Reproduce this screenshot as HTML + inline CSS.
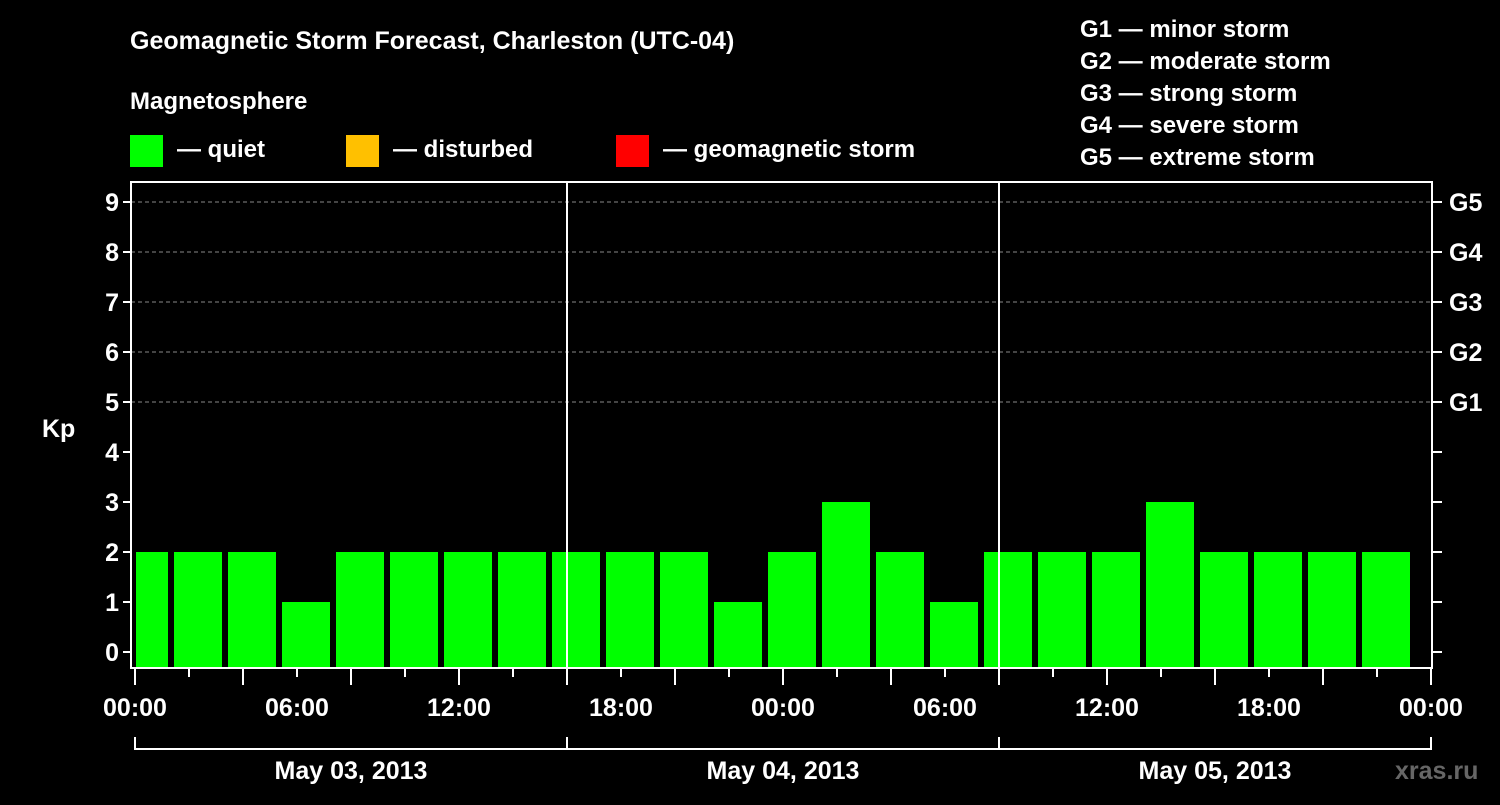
<!DOCTYPE html>
<html><head><meta charset="utf-8"><style>
body{margin:0;background:#000;width:1500px;height:800px;overflow:hidden}
svg{font-family:"Liberation Sans",Arial,sans-serif;font-weight:bold}
</style></head><body>
<svg id="c" width="1500" height="800" xmlns="http://www.w3.org/2000/svg">
<rect width="1500" height="800" fill="#000"/>
<text x="130" y="49" fill="#fff" font-size="25">Geomagnetic Storm Forecast, Charleston (UTC-04)</text>
<text x="130" y="109" fill="#fff" font-size="24">Magnetosphere</text>
<g><rect x="130" y="135" width="33" height="32" fill="#00ff00"/><text x="177" y="157" fill="#fff" font-size="24">— quiet</text></g>
<g><rect x="346" y="135" width="33" height="32" fill="#ffc000"/><text x="393" y="157" fill="#fff" font-size="24">— disturbed</text></g>
<g><rect x="616" y="135" width="33" height="32" fill="#ff0000"/><text x="663" y="157" fill="#fff" font-size="24">— geomagnetic storm</text></g>
<g fill="#fff" font-size="24">
<text x="1080" y="37">G1 — minor storm</text><text x="1080" y="69">G2 — moderate storm</text><text x="1080" y="101">G3 — strong storm</text><text x="1080" y="133">G4 — severe storm</text><text x="1080" y="165">G5 — extreme storm</text>
</g>
<text x="42" y="437" fill="#fff" font-size="25">Kp</text>
<text x="1395" y="779" fill="#666" font-size="25">xras.ru</text>
<g id="plot"></g>
</svg>
<script>
const kpValues=[2,2,2,2,1,2,2,2,2,2,2,2,1,2,3,2,1,2,2,2,3,2,2,2,2];
const yTicks=[0,1,2,3,4,5,6,7,8,9];
const gLabels=["G1","G2","G3","G4","G5"];
const hourLabels=["00:00","06:00","12:00","18:00","00:00","06:00","12:00","18:00","00:00"];
const dayLabels=["May 03, 2013","May 04, 2013","May 05, 2013"];
const NS="http://www.w3.org/2000/svg";
const g=document.getElementById('plot');
const X0=135,HR=18,L=131,R=1432,T=182,B=668;
const x=h=>X0+h*HR; const y=v=>652-v*50;
function mk(t,a,txt){const e=document.createElementNS(NS,t);for(const k in a)e.setAttribute(k,a[k]);if(txt!==undefined)e.textContent=txt;g.appendChild(e);return e;}
// grid
yTicks.forEach(v=>{if(v>=5){const e=mk('line',{x1:L,x2:R,y1:y(v),y2:y(v),stroke:'#888','stroke-dasharray':'4,3','stroke-width':1});

}});
// bars
kpValues.forEach((v,i)=>{let s=x(-4+i*3)+3,e=x(-1+i*3)-3;s=Math.max(s,L+5);e=Math.min(e,R-4);
const r=mk('rect',{x:s,y:y(v),width:e-s,height:B-1-y(v),fill:v>=5?'#ff0000':v>=4?'#ffc000':'#00ff00'});

});
// day separators
[24,48].forEach(h=>{const e=mk('line',{x1:x(h),x2:x(h),y1:T,y2:B,stroke:'#fff','stroke-width':2});

});
// frame
const f=mk('rect',{x:L,y:T,width:R-L,height:B-T,fill:'none',stroke:'#fff','stroke-width':2});


// y ticks
yTicks.forEach(v=>{mk('line',{x1:L-8,x2:L,y1:y(v),y2:y(v),stroke:'#fff','stroke-width':2});mk('line',{x1:R,x2:R+10,y1:y(v),y2:y(v),stroke:'#fff','stroke-width':2});
const t=mk('text',{x:L-12,y:y(v)+9,fill:'#fff','font-size':25,'text-anchor':'end'},String(v));

});
gLabels.forEach((s,i)=>{const t=mk('text',{x:R+17,y:y(5+i)+9,fill:'#fff','font-size':25},s);

});
// x ticks
for(let h=0;h<=72;h+=3){mk('line',{x1:x(h),x2:x(h),y1:B,y2:B+(h%6==0?17:9),stroke:'#fff','stroke-width':2});}
hourLabels.forEach((s,i)=>{const t=mk('text',{x:x(i*6*1.5*0+i*9),y:716,fill:'#fff','font-size':25,'text-anchor':'middle'},s);

});
// day brackets
dayLabels.forEach((s,i)=>{mk('path',{d:`M${x(i*24)},737V749H${x(i*24+24)}V737`,fill:'none',stroke:'#fff','stroke-width':2});
const t=mk('text',{x:x(i*24+12),y:779,fill:'#fff','font-size':25,'text-anchor':'middle'},s);

});
</script>
</body></html>
